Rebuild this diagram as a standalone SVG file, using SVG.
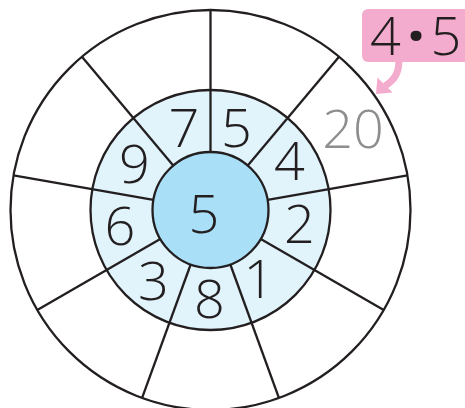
<svg xmlns="http://www.w3.org/2000/svg" width="465" height="408" viewBox="0 0 465 408">
<style>
.ln{stroke:#231f20;stroke-width:2.3;fill:none}
.num{font-family:"Open Sans","Liberation Sans",sans-serif;font-weight:300;font-size:54px;fill:#231f20;text-anchor:middle}
.gray{fill:#8c8e90}
</style>
<rect width="465" height="408" fill="#ffffff"/>
<g id="outer-ring"><circle cx="210.5" cy="210" r="200" fill="#ffffff" class="ln"/></g>
<g id="middle-ring"><circle cx="210.5" cy="210" r="120" fill="#e1f3fb" stroke="#231f20" stroke-width="2.3"/></g>
<g id="connectors" class="ln">
<line x1="210.5" y1="152" x2="210.5" y2="10"/>
<line x1="247.78" y1="165.57" x2="339.06" y2="56.79"/>
<line x1="267.62" y1="199.93" x2="407.46" y2="175.27"/>
<line x1="260.73" y1="239" x2="383.71" y2="310"/>
<line x1="230.34" y1="264.5" x2="278.9" y2="397.94"/>
<line x1="190.66" y1="264.5" x2="142.1" y2="397.94"/>
<line x1="160.27" y1="239" x2="37.29" y2="310"/>
<line x1="153.38" y1="199.93" x2="13.54" y2="175.27"/>
<line x1="173.22" y1="165.57" x2="81.94" y2="56.79"/>
</g>
<g id="center"><circle cx="210.5" cy="210" r="58" fill="#aadff8" stroke="#231f20" stroke-width="2.3"/>
<text class="num" x="204" y="233" font-size="58">5</text></g>
<g id="n7"><text class="num" x="184" y="147">7</text></g>
<g id="n5"><text class="num" x="236.5" y="147">5</text></g>
<g id="n4"><text class="num" x="289.5" y="180">4</text></g>
<g id="n2"><text class="num" x="299.5" y="243">2</text></g>
<g id="n1"><text class="num" x="259" y="298">1</text></g>
<g id="n8"><text class="num" x="209.5" y="318">8</text></g>
<g id="n3"><text class="num" x="153.5" y="300">3</text></g>
<g id="n6"><text class="num" x="120" y="245">6</text></g>
<g id="n9"><text class="num" x="134.5" y="183">9</text></g>
<g id="answer"><text class="num gray" x="353" y="148">20</text></g>
<g id="hint">
<rect x="362" y="9" width="120" height="53" rx="6" fill="#f4acce"/>
<path d="M399 60 C399 74 394 80 385 86" stroke="#f4acce" stroke-width="7" fill="none"/>
<polygon points="376,94 377.4,77.4 392.6,92.6" fill="#f4acce"/>
<text class="num" y="55" font-size="51"><tspan x="385.5">4</tspan><tspan x="416" font-weight="800">·</tspan><tspan x="446">5</tspan></text>
</g>
</svg>
